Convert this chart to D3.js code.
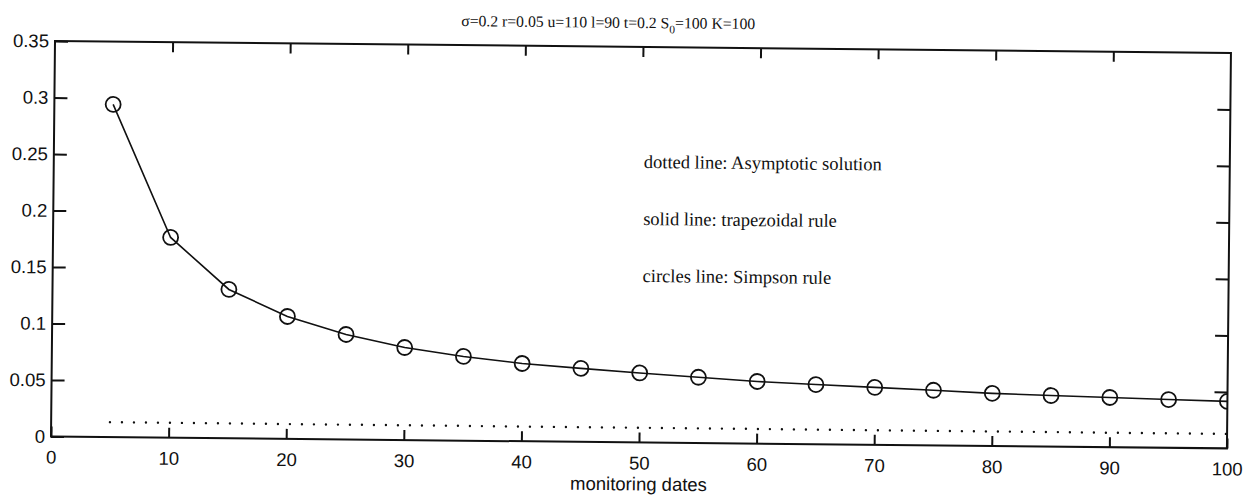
<!DOCTYPE html>
<html>
<head>
<meta charset="utf-8">
<script src="https://cdn.jsdelivr.net/npm/d3@7"></script>
<style>
  body { margin: 0; background: #fff; }
  .tick text { font-family: "Liberation Sans", Arial, sans-serif; font-size: 18.5px; fill: #111; }
  .tick line { stroke: #111; stroke-width: 2; }
  .note { font-family: "Liberation Serif", "Times New Roman", serif; font-size: 18.5px; fill: #111; }
</style>
</head>
<body>
<svg id="chart" width="1259" height="501"></svg>
<script>
// monitoring dates
var dates = [5, 10, 15, 20, 25, 30, 35, 40, 45, 50, 55, 60, 65, 70, 75, 80, 85, 90, 95, 100];
// trapezoidal / simpson values
var simpson = [0.2944, 0.1772, 0.1317, 0.1083, 0.0929, 0.0819, 0.0745, 0.0688, 0.0650, 0.0615,
               0.0582, 0.0550, 0.0528, 0.0508, 0.0488, 0.0466, 0.0452, 0.0440, 0.0427, 0.0416];
// asymptotic solution (dotted)
var asymptotic = [0.0132, 0.0132, 0.0132, 0.0131, 0.0131, 0.0131, 0.0131, 0.0130, 0.0130, 0.0130,
                  0.0130, 0.0130, 0.0129, 0.0129, 0.0129, 0.0129, 0.0129, 0.0128, 0.0128, 0.0128];
var xTicks = [0, 10, 20, 30, 40, 50, 60, 70, 80, 90, 100];
var yTicks = [0, 0.05, 0.1, 0.15, 0.2, 0.25, 0.3, 0.35];
var yTickLabels = ["0", "0.05", "0.1", "0.15", "0.2", "0.25", "0.3", "0.35"];
var notes = ["dotted line: Asymptotic solution", "solid line: trapezoidal rule", "circles line: Simpson rule"];

var svg = d3.select("#chart"),
    width = 1176,
    height = 395.5,
    // the scanned page is a little tilted
    g = svg.append("g").attr("transform", "translate(55,41) rotate(0.58)");

var x = d3.scaleLinear().domain([0, 100]).range([0, width]),
    y = d3.scaleLinear().domain([0, 0.35]).range([height, 0]);

g.append("clipPath").attr("id", "plot-clip")
  .append("rect").attr("width", width).attr("height", height);

//bottom axis with labels, ticks pointing in
g.append("g")
    .attr("transform", "translate(0," + height + ")")
    .call(d3.axisBottom(x).tickValues(xTicks).tickSize(-10).tickPadding(14))
    .call(function(a) { a.select(".domain").remove(); });

//top axis ticks only
g.append("g")
    .call(d3.axisTop(x).tickValues(xTicks.slice(1, -1)).tickSize(-10).tickFormat(""))
    .call(function(a) { a.select(".domain").remove(); });

//left axis with labels
g.append("g")
    .call(d3.axisLeft(y).tickValues(yTicks).tickSize(-13).tickPadding(6)
      .tickFormat(function(d, i) { return yTickLabels[i]; }))
    .call(function(a) { a.select(".domain").remove(); });

//right axis ticks only
g.append("g")
    .attr("transform", "translate(" + width + ",0)")
    .call(d3.axisRight(y).tickValues(yTicks.slice(1, -1)).tickSize(-13).tickFormat(""))
    .call(function(a) { a.select(".domain").remove(); });

//frame
g.append("rect")
    .attr("width", width).attr("height", height)
    .attr("fill", "none").attr("stroke", "#111").attr("stroke-width", 2);

var plot = g.append("g").attr("clip-path", "url(#plot-clip)");

var line = d3.line()
    .x(function(d, i) { return x(dates[i]); })
    .y(function(d) { return y(d); });

//dotted line
plot.append("path")
    .attr("d", line(asymptotic))
    .attr("fill", "none").attr("stroke", "#111")
    .attr("stroke-width", 2.4).attr("stroke-linecap", "round")
    .attr("stroke-dasharray", "0,12");

//solid line
plot.append("path")
    .attr("d", line(simpson))
    .attr("fill", "none").attr("stroke", "#111").attr("stroke-width", 1.6);

//circles
plot.selectAll(".pt")
    .data(simpson)
    .enter().append("circle")
    .attr("class", "pt")
    .attr("cx", function(d, i) { return x(dates[i]); })
    .attr("cy", function(d) { return y(d); })
    .attr("r", 7.5)
    .attr("fill", "none").attr("stroke", "#111").attr("stroke-width", 1.8);

//notes
g.selectAll(".note")
    .data(notes)
    .enter().append("text")
    .attr("class", "note")
    .attr("x", 590)
    .attr("y", function(d, i) { return 121 + i * 57; })
    .text(function(d) { return d; });

//x label
g.append("text")
    .attr("x", width / 2).attr("y", height + 48)
    .attr("text-anchor", "middle")
    .style("font-family", "'Liberation Sans', Arial, sans-serif")
    .style("font-size", "18.5px").style("fill", "#111")
    .text("monitoring dates");

//title
var title = g.append("text")
    .attr("x", 553).attr("y", -19)
    .attr("text-anchor", "middle")
    .style("font-family", "'Liberation Serif', 'Times New Roman', serif")
    .style("font-size", "15.7px").style("fill", "#111");
title.append("tspan").text("\u03c3=0.2 r=0.05 u=110 l=90 t=0.2 S");
title.append("tspan").attr("dy", 5).style("font-size", "11.5px").text("0");
title.append("tspan").attr("dy", -5).text("=100 K=100");
</script>
</body>
</html>
